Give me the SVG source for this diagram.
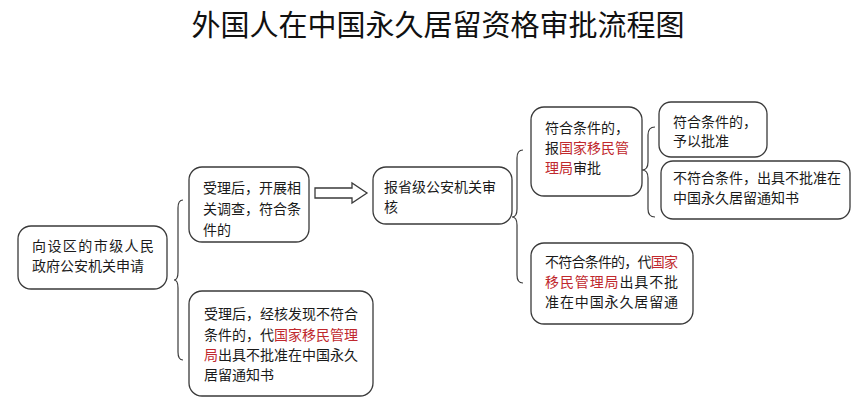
<svg xmlns="http://www.w3.org/2000/svg" width="865" height="415" viewBox="0 0 865 415">
<style>
.box{fill:#fff;stroke:#3a3a3a;stroke-width:1.3}
.t{font-family:"Noto Sans CJK SC","Noto Sans",sans-serif;font-size:14px;fill:#1a1a1a}
.r{fill:#c0282d}
.title{font-family:"Noto Sans CJK SC","Noto Sans",sans-serif;font-size:29px;fill:#111;text-anchor:middle}
.br{fill:none;stroke:#3a3a3a;stroke-width:1.2}
.arr{fill:#fff;stroke:#3a3a3a;stroke-width:1.3}
</style>
<rect width="865" height="415" fill="#fff"/>
<text class="title" x="438" y="36">外国人在中国永久居留资格审批流程图</text>
<g id="connectors">
<path class="br" d="M183,200 Q178,200 178,208 L178,272 Q178,280 174,280 Q178,280 178,288 L178,352 Q178,360 183,360"/>
<path class="br" d="M523,150 Q517,150 517,158 L517,209 Q517,217 512,217 Q517,217 517,225 L517,275 Q517,283 523,283"/>
<path class="br" d="M655,127 Q648,127 648,135 L648,162 Q648,170 642,170 Q648,170 648,178 L648,209 Q648,217 655,217"/>
<polygon class="arr" points="315,188 352,188 352,183 367,193 352,203 352,198 315,198"/>
</g>
<g id="nodeA">
<rect class="box" x="18" y="226" width="149" height="63" rx="13"/>
<text class="t" x="32" y="251" textLength="122">向设区的市级人民</text>
<text class="t" x="32" y="271">政府公安机关申请</text>
</g>
<g id="nodeB">
<rect class="box" x="189" y="167" width="120" height="75" rx="13"/>
<text class="t" x="203" y="193">受理后，开展相</text>
<text class="t" x="203" y="214">关调查，符合条</text>
<text class="t" x="203" y="235">件的</text>
</g>
<g id="nodeC">
<rect class="box" x="189" y="291" width="184" height="105" rx="13"/>
<text class="t" x="204" y="319">受理后，经核发现不符合</text>
<text class="t" x="204" y="340">条件的，代<tspan class="r">国家移民管理</tspan></text>
<text class="t" x="204" y="360"><tspan class="r">局</tspan>出具不批准在中国永久</text>
<text class="t" x="204" y="380">居留通知书</text>
</g>
<g id="nodeD">
<rect class="box" x="373" y="167" width="139" height="57" rx="13"/>
<text class="t" x="384" y="192">报省级公安机关审</text>
<text class="t" x="384" y="212">核</text>
</g>
<g id="nodeE">
<rect class="box" x="531" y="107" width="111" height="89" rx="13"/>
<text class="t" x="545" y="133">符合条件的，</text>
<text class="t" x="545" y="153">报<tspan class="r">国家移民管</tspan></text>
<text class="t" x="545" y="173"><tspan class="r">理局</tspan>审批</text>
</g>
<g id="nodeF">
<rect class="box" x="531" y="243" width="162" height="81" rx="13"/>
<text class="t" x="545" y="267" textLength="133">不符合条件的，代<tspan class="r">国家</tspan></text>
<text class="t" x="545" y="287" textLength="133"><tspan class="r">移民管理局</tspan>出具不批</text>
<text class="t" x="545" y="307" textLength="133">准在中国永久居留通</text>
</g>
<g id="nodeG">
<rect class="box" x="659" y="102" width="108" height="55" rx="12"/>
<text class="t" x="673" y="127">符合条件的，</text>
<text class="t" x="673" y="146">予以批准</text>
</g>
<g id="nodeH">
<rect class="box" x="661" y="161" width="189" height="58" rx="12"/>
<text class="t" x="673" y="183">不符合条件，出具不批准在</text>
<text class="t" x="673" y="203">中国永久居留通知书</text>
</g>
</svg>
